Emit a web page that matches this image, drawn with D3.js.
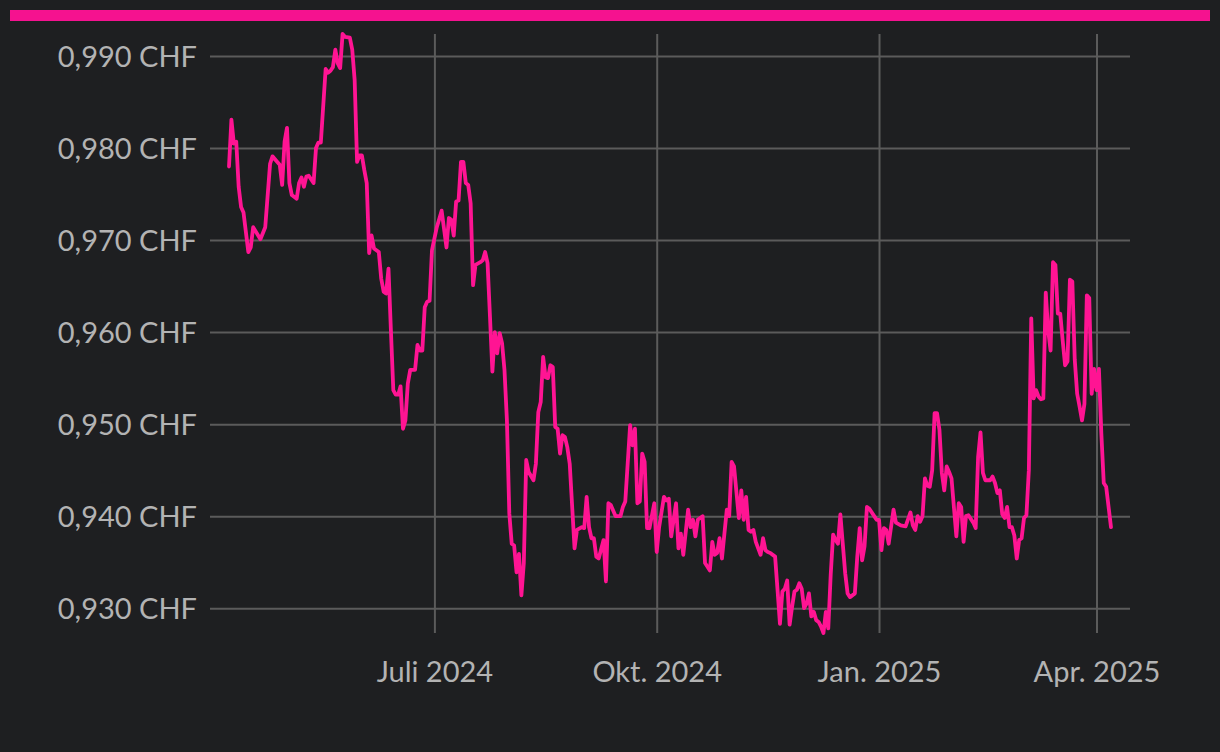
<!DOCTYPE html>
<html>
<head>
<meta charset="utf-8">
<script src="https://cdn.jsdelivr.net/npm/d3@7"></script>
<style>
  html, body { margin: 0; padding: 0; background: #1e1f21; }
  svg { display: block; }
  .tick text { font-family: Lato, "Open Sans", sans-serif; fill: #b3b3b3; }
</style>
</head>
<body>
<div id="chart"></div>
<script>
// EUR/CHF-like daily rate
const dates = [
  "2024-04-07","2024-04-08","2024-04-09","2024-04-10","2024-04-11","2024-04-12","2024-04-13","2024-04-15","2024-04-16","2024-04-17",
  "2024-04-20","2024-04-22","2024-04-24","2024-04-25","2024-04-27","2024-04-28","2024-04-29","2024-04-30",
  "2024-05-01","2024-05-02","2024-05-03","2024-05-05","2024-05-06","2024-05-07","2024-05-08","2024-05-09","2024-05-10","2024-05-12",
  "2024-05-13","2024-05-14","2024-05-15","2024-05-17","2024-05-18","2024-05-19","2024-05-20","2024-05-21","2024-05-22","2024-05-23",
  "2024-05-24","2024-05-25","2024-05-27","2024-05-28","2024-05-29","2024-05-30","2024-05-31",
  "2024-06-01","2024-06-02","2024-06-03","2024-06-04","2024-06-05","2024-06-06","2024-06-08","2024-06-09","2024-06-10","2024-06-11",
  "2024-06-12","2024-06-13","2024-06-14","2024-06-15","2024-06-16","2024-06-17","2024-06-18","2024-06-19","2024-06-20","2024-06-21",
  "2024-06-23","2024-06-24","2024-06-25","2024-06-26","2024-06-27","2024-06-28","2024-06-29","2024-06-30",
  "2024-07-02","2024-07-04","2024-07-05","2024-07-06","2024-07-07","2024-07-08","2024-07-09","2024-07-10","2024-07-11","2024-07-12",
  "2024-07-13","2024-07-14","2024-07-15","2024-07-16","2024-07-17","2024-07-18","2024-07-20","2024-07-21","2024-07-22","2024-07-23",
  "2024-07-24","2024-07-25","2024-07-26","2024-07-27","2024-07-28","2024-07-29","2024-07-30","2024-07-31",
  "2024-08-01","2024-08-02","2024-08-03","2024-08-04","2024-08-05","2024-08-06","2024-08-07","2024-08-08","2024-08-09","2024-08-11",
  "2024-08-12","2024-08-13","2024-08-14","2024-08-15","2024-08-16","2024-08-17","2024-08-18","2024-08-19","2024-08-20","2024-08-21",
  "2024-08-22","2024-08-23","2024-08-24","2024-08-25","2024-08-26","2024-08-28","2024-08-29","2024-08-31",
  "2024-09-01","2024-09-02","2024-09-03","2024-09-04","2024-09-05","2024-09-06","2024-09-07","2024-09-09","2024-09-10","2024-09-11",
  "2024-09-12","2024-09-14","2024-09-16","2024-09-17","2024-09-18","2024-09-20","2024-09-21","2024-09-22","2024-09-23","2024-09-24",
  "2024-09-25","2024-09-26","2024-09-27","2024-09-28","2024-09-30",
  "2024-10-01","2024-10-02","2024-10-04","2024-10-05","2024-10-06","2024-10-07","2024-10-09","2024-10-10","2024-10-11","2024-10-12",
  "2024-10-14","2024-10-15","2024-10-16","2024-10-17","2024-10-18","2024-10-20","2024-10-21","2024-10-23","2024-10-24","2024-10-25",
  "2024-10-26","2024-10-27","2024-10-28","2024-10-30","2024-10-31",
  "2024-11-01","2024-11-02","2024-11-04","2024-11-05","2024-11-06","2024-11-07","2024-11-08","2024-11-09","2024-11-10","2024-11-11",
  "2024-11-13","2024-11-14","2024-11-15","2024-11-16","2024-11-17","2024-11-19","2024-11-20","2024-11-21","2024-11-22","2024-11-23",
  "2024-11-24","2024-11-25","2024-11-26","2024-11-27","2024-11-28","2024-11-29","2024-11-30",
  "2024-12-01","2024-12-02","2024-12-03","2024-12-04","2024-12-05","2024-12-06","2024-12-07","2024-12-08","2024-12-09","2024-12-10",
  "2024-12-11","2024-12-12","2024-12-13","2024-12-14","2024-12-15","2024-12-16","2024-12-17","2024-12-18","2024-12-19","2024-12-20",
  "2024-12-22","2024-12-23","2024-12-24","2024-12-25","2024-12-26","2024-12-27","2024-12-28","2024-12-30","2024-12-31",
  "2025-01-01","2025-01-02","2025-01-03","2025-01-04","2025-01-05","2025-01-07","2025-01-08","2025-01-10","2025-01-12","2025-01-14",
  "2025-01-15","2025-01-16","2025-01-17","2025-01-18","2025-01-19","2025-01-20","2025-01-21","2025-01-22","2025-01-23","2025-01-24",
  "2025-01-25","2025-01-26","2025-01-27","2025-01-28","2025-01-29","2025-01-30","2025-01-31",
  "2025-02-02","2025-02-03","2025-02-04","2025-02-05","2025-02-06","2025-02-07","2025-02-09","2025-02-10","2025-02-11","2025-02-12",
  "2025-02-13","2025-02-14","2025-02-16","2025-02-17","2025-02-18","2025-02-19","2025-02-20","2025-02-21","2025-02-22","2025-02-23",
  "2025-02-24","2025-02-25","2025-02-26","2025-02-27","2025-02-28",
  "2025-03-01","2025-03-02","2025-03-03","2025-03-04","2025-03-05","2025-03-06","2025-03-07","2025-03-08","2025-03-09","2025-03-10",
  "2025-03-11","2025-03-12","2025-03-13","2025-03-14","2025-03-15","2025-03-16","2025-03-17","2025-03-18","2025-03-19","2025-03-20",
  "2025-03-21","2025-03-22","2025-03-23","2025-03-24","2025-03-25","2025-03-26","2025-03-27","2025-03-28","2025-03-29","2025-03-30",
  "2025-03-31",
  "2025-04-01","2025-04-02","2025-04-03","2025-04-04","2025-04-05","2025-04-07"
];

const rates = [
  0.9780,0.9831,0.9805,0.9807,0.9758,0.9736,0.9730,0.9687,0.9692,0.9714,
  0.9701,0.9714,0.9783,0.9791,0.9785,0.9782,0.9760,0.9807,
  0.9822,0.9762,0.9749,0.9745,0.9762,0.9768,0.9758,0.9769,0.9770,0.9762,
  0.9800,0.9806,0.9806,0.9886,0.9882,0.9884,0.9888,0.9907,0.9892,0.9887,
  0.9924,0.9921,0.9920,0.9907,0.9874,0.9785,0.9792,
  0.9792,0.9776,0.9762,0.9686,0.9705,0.9691,0.9687,0.9658,0.9644,0.9642,
  0.9669,0.9602,0.9537,0.9532,0.9532,0.9541,0.9495,0.9504,0.9544,0.9559,
  0.9559,0.9586,0.9580,0.9580,0.9627,0.9633,0.9634,0.9689,
  0.9714,0.9732,0.9712,0.9692,0.9724,0.9722,0.9705,0.9742,0.9743,0.9785,
  0.9785,0.9762,0.9760,0.9740,0.9651,0.9673,0.9676,0.9678,0.9687,0.9675,
  0.9617,0.9557,0.9600,0.9577,0.9599,0.9588,0.9559,0.9505,
  0.9403,0.9370,0.9368,0.9339,0.9359,0.9314,0.9349,0.9461,0.9448,0.9439,
  0.9457,0.9513,0.9524,0.9573,0.9551,0.9550,0.9564,0.9562,0.9497,0.9495,
  0.9468,0.9488,0.9486,0.9475,0.9457,0.9365,0.9385,0.9388,
  0.9387,0.9421,0.9388,0.9376,0.9376,0.9356,0.9354,0.9374,0.9329,0.9414,
  0.9412,0.9400,0.9400,0.9410,0.9416,0.9499,0.9477,0.9495,0.9414,0.9416,
  0.9468,0.9459,0.9387,0.9387,0.9414,
  0.9361,0.9388,0.9421,0.9417,0.9419,0.9378,0.9414,0.9365,0.9381,0.9358,
  0.9407,0.9388,0.9396,0.9378,0.9396,0.9400,0.9349,0.9341,0.9372,0.9358,
  0.9360,0.9376,0.9354,0.9407,0.9400,
  0.9459,0.9454,0.9398,0.9428,0.9396,0.9421,0.9385,0.9383,0.9385,0.9372,
  0.9358,0.9376,0.9363,0.9361,0.9360,0.9356,0.9320,0.9283,0.9318,0.9321,
  0.9330,0.9282,0.9301,0.9318,0.9320,0.9327,0.9321,
  0.9300,0.9305,0.9316,0.9291,0.9296,0.9287,0.9285,0.9280,0.9273,0.9296,
  0.9278,0.9336,0.9380,0.9374,0.9370,0.9402,0.9370,0.9338,0.9316,0.9312,
  0.9316,0.9356,0.9387,0.9352,0.9367,0.9410,0.9408,0.9400,0.9396,
  0.9396,0.9363,0.9387,0.9385,0.9370,0.9407,0.9393,0.9390,0.9389,0.9404,
  0.9390,0.9385,0.9400,0.9394,0.9400,0.9441,0.9433,0.9432,0.9450,0.9512,
  0.9512,0.9494,0.9447,0.9428,0.9454,0.9448,0.9441,
  0.9378,0.9414,0.9410,0.9372,0.9400,0.9401,0.9393,0.9387,0.9464,0.9491,
  0.9447,0.9439,0.9439,0.9443,0.9436,0.9425,0.9428,0.9402,0.9398,0.9410,
  0.9388,0.9388,0.9379,0.9354,0.9374,
  0.9376,0.9398,0.9401,0.9450,0.9615,0.9528,0.9537,0.9530,0.9527,0.9528,
  0.9643,0.9602,0.9580,0.9676,0.9673,0.9620,0.9620,0.9591,0.9564,0.9568,
  0.9657,0.9655,0.9570,0.9533,0.9519,0.9504,0.9522,0.9640,0.9637,0.9533,
  0.9560,
  0.9537,0.9560,0.9490,0.9436,0.9432,0.9388
];

const yTicks = [0.930, 0.940, 0.950, 0.960, 0.970, 0.980, 0.990];
const monthsShort = ["Jan.", "Feb.", "März", "Apr.", "Mai", "Juni", "Juli", "Aug.", "Sep.", "Okt.", "Nov.", "Dez."];
const currency = "CHF";

let width = 1220,
    height = 752,
    margin = { left: 210, right: 90, top: 34, bottom: 119 },
    innerWidth = width - margin.left - margin.right,
    innerHeight = height - margin.top - margin.bottom,
    xPad = 19;

const parseDate = d3.timeParse("%Y-%m-%d");
const data = dates.map((d, i) => ({ date: parseDate(d), rate: rates[i] }));

const numLocale = d3.formatLocale({ decimal: ",", thousands: ".", grouping: [3], currency: ["", " " + currency] });
const formatRate = numLocale.format(".3f");
const timeLocale = d3.timeFormatLocale({
    dateTime: "%A, der %e. %B %Y, %X", date: "%d.%m.%Y", time: "%H:%M:%S",
    periods: ["AM", "PM"],
    days: ["Sonntag", "Montag", "Dienstag", "Mittwoch", "Donnerstag", "Freitag", "Samstag"],
    shortDays: ["So", "Mo", "Di", "Mi", "Do", "Fr", "Sa"],
    months: ["Januar", "Februar", "März", "April", "Mai", "Juni", "Juli", "August", "September", "Oktober", "November", "Dezember"],
    shortMonths: monthsShort
});
const formatMonth = timeLocale.format("%b %Y");

const svg = d3.select("#chart").append("svg")
    .attr("width", width)
    .attr("height", height);

svg.append("rect")
    .attr("width", width).attr("height", height)
    .attr("fill", "#1e1f21");

// pink top bar
svg.append("rect")
    .attr("x", 10).attr("y", 10)
    .attr("width", 1200).attr("height", 11)
    .attr("fill", "#f5128f");

const g = svg.append("g")
    .attr("transform", "translate(" + margin.left + "," + margin.top + ")");

//Scales
const xScale = d3.scaleTime()
    .domain(d3.extent(data, d => d.date))
    .range([xPad, innerWidth - xPad]);

const yScale = d3.scaleLinear()
    .domain(d3.extent(data, d => d.rate))
    .range([innerHeight, 0]);

//Axis generators
const xAxisCall = d3.axisBottom(xScale)
    .ticks(d3.timeMonth.every(3))
    .tickSize(-innerHeight)
    .tickPadding(28)
    .tickFormat(formatMonth);

const yAxisCall = d3.axisLeft(yScale)
    .tickValues(yTicks)
    .tickSize(-innerWidth)
    .tickPadding(13)
    .tickFormat(d => formatRate(d) + " " + currency);

const xAxis = g.append("g")
    .attr("class", "x axis")
    .attr("transform", "translate(0," + innerHeight + ")")
    .call(xAxisCall);

const yAxis = g.append("g")
    .attr("class", "y axis")
    .call(yAxisCall);

[xAxis, yAxis].forEach(ax => {
    ax.select(".domain").remove();
    ax.selectAll(".tick line")
        .attr("stroke", "#5b5b5b")
        .attr("stroke-width", 2);
    ax.selectAll(".tick text")
        .style("font-size", "29px");
});
yAxis.selectAll(".tick text").attr("dy", "0.35em");

const line = d3.line()
    .x(d => xScale(d.date))
    .y(d => yScale(d.rate));

g.append("path")
    .datum(data)
    .attr("fill", "none")
    .attr("stroke", "#ff1493")
    .attr("stroke-width", 3.8)
    .attr("stroke-linejoin", "round")
    .attr("stroke-linecap", "round")
    .attr("d", line);
</script>
</body>
</html>
